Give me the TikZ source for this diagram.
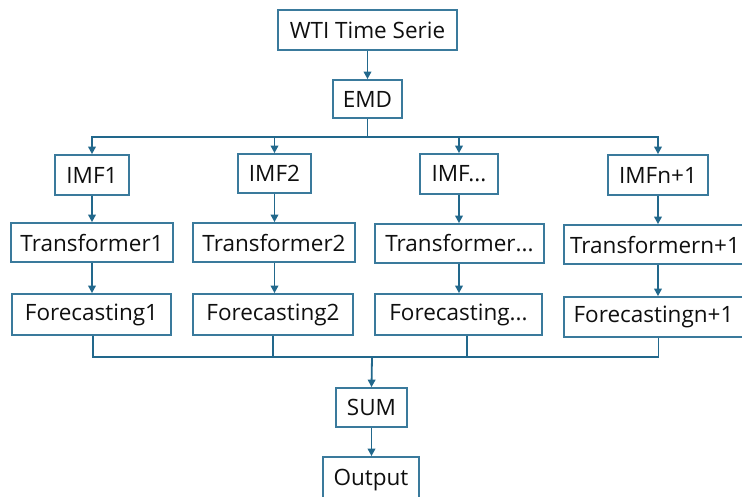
\documentclass[tikz,border=0pt]{standalone}
\usepackage{fontspec}
\setmainfont{Open Sans}
\usetikzlibrary{arrows.meta}
\definecolor{boxc}{RGB}{58,122,156}
\definecolor{linec}{RGB}{34,104,140}
\definecolor{txtc}{RGB}{15,15,15}
\tikzset{
  bx/.style={draw=boxc, line width=1.7pt, inner sep=0pt, text=txtc,
    font=\fontsize{22.5}{27}\selectfont, anchor=center},
  arr/.style={draw=linec, line width=1.8pt, -{Triangle[length=7.5pt,width=7.5pt]}},
  ln/.style={draw=linec, line width=1.8pt},
}
\begin{document}
\begin{tikzpicture}[x=1pt,y=-1pt]
\useasboundingbox (0,0) rectangle (742,496);
\node[bx, minimum width=179pt, minimum height=40pt] (wti) at (367.5,30) {WTI Time Serie};
\node[bx, minimum width=69pt, minimum height=38pt] (emd) at (367.5,99) {EMD};
\node[bx, minimum width=74pt, minimum height=40pt] (imf1) at (92,175) {IMF1};
\node[bx, minimum width=73pt, minimum height=39pt] (imf2) at (274.5,173.5) {IMF2};
\node[bx, minimum width=78pt, minimum height=40pt] (imf3) at (459,174) {IMF...};
\node[bx, minimum width=100pt, minimum height=40pt] (imf4) at (658,175) {IMFn+1};
\node[bx, minimum width=162pt, minimum height=39pt] (t1) at (92,242.5) {Transformer1};
\node[bx, minimum width=162pt, minimum height=39pt] (t2) at (274,242.5) {Transformer2};
\node[bx, minimum width=169pt, minimum height=39pt] (t3) at (459.5,243.5) {Transformer...};
\node[bx, minimum width=182pt, minimum height=39pt] (t4) at (655,244.5) {Transformern+1};
\node[bx, minimum width=159pt, minimum height=41pt] (f1) at (91.5,314.5) {Forecasting1};
\node[bx, minimum width=160pt, minimum height=41pt] (f2) at (273,314.5) {Forecasting2};
\node[bx, minimum width=167pt, minimum height=41pt] (f3) at (458.5,314.5) {Forecasting...};
\node[bx, minimum width=179pt, minimum height=40pt] (f4) at (653.5,317) {Forecastingn+1};
\node[bx, minimum width=71pt, minimum height=39pt] (sum) at (371.5,407.5) {SUM};
\node[bx, minimum width=96pt, minimum height=46pt] (out) at (371,480) {Output};
% connectors
\draw[arr] (wti.south) -- (emd.north);
\coordinate (br) at (367.5,137);
\draw[ln] (emd.south) -- (br);
\draw[arr] (br) -| (imf1.north);
\draw[arr] (br) -| (imf2.north);
\draw[arr] (br) -| (imf3.north);
\draw[arr] (br) -| (imf4.north);
\foreach \i in {1,2,3,4}{
  \draw[arr] (imf\i.south) -- (imf\i.south |- t\i.north);
  \draw[arr] (imf\i.south |- t\i.south) -- (imf\i.south |- f\i.north);
}
\coordinate (mg) at (372,357);
\draw[ln] ([xshift=1.5pt]f1.south) |- (mg);
\draw[ln] (f2.south) |- (mg);
\draw[ln] ([xshift=8.5pt]f3.south) |- (mg);
\draw[ln] ([xshift=5pt]f4.south) |- (mg);
\draw[arr] (mg) -- (sum.north);
\draw[arr] (sum.south) -- (sum.south |- out.north);
\end{tikzpicture}
\end{document}
